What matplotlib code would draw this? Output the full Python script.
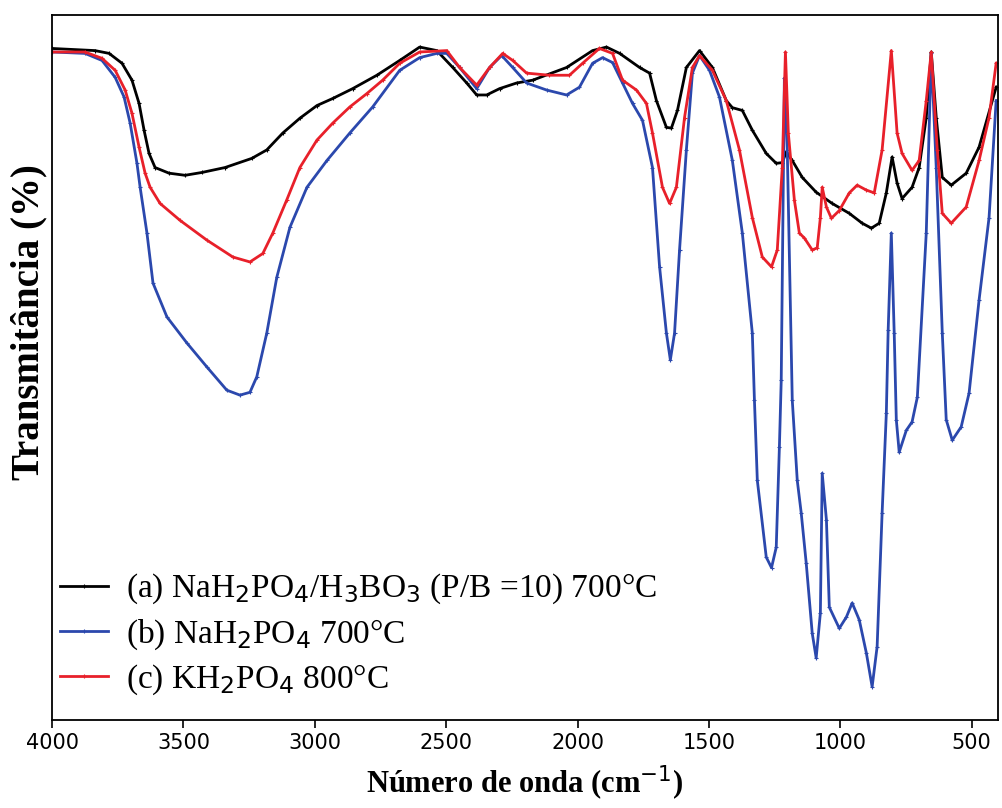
import matplotlib
matplotlib.use('Agg')
import matplotlib.pyplot as plt

# wavenumber (cm-1) / transmittance (arb. %)
wn_a = [4000, 3837, 3783, 3734, 3696, 3669, 3650, 3631, 3608, 3555, 3494, 3430,
        3342, 3240, 3183, 3122, 3057, 2992, 2932, 2856, 2764, 2677, 2601, 2536,
        2475, 2422, 2384, 2346, 2297, 2232, 2171, 2042, 1943, 1890, 1840, 1764,
        1726, 1700, 1662, 1643, 1620, 1586, 1536, 1487, 1434, 1411, 1373, 1335,
        1282, 1244, 1221, 1206, 1183, 1145, 1092, 1031, 966, 917, 882, 852, 825,
        803, 784, 765, 727, 700, 673, 654, 635, 612, 578, 521, 472, 407]
t_a = [95.3, 95.0, 94.6, 93.2, 90.8, 87.5, 83.7, 80.4, 78.4, 77.6, 77.3, 77.7,
       78.4, 79.7, 80.9, 83.3, 85.4, 87.2, 88.2, 89.6, 91.5, 93.6, 95.5, 95.0,
       92.6, 90.4, 88.7, 88.7, 89.6, 90.4, 90.8, 92.6, 95.0, 95.5, 94.6, 92.6,
       91.8, 87.9, 84.1, 84.0, 86.5, 92.6, 95.0, 92.6, 87.9, 86.9, 86.5, 83.7,
       80.4, 79.0, 79.1, 80.6, 79.4, 77.0, 74.9, 73.3, 71.9, 70.5, 69.8, 70.5,
       74.8, 79.9, 76.2, 74.0, 75.6, 78.4, 85.5, 94.8, 85.5, 77.0, 75.9, 77.6,
       81.3, 89.8]

wn_b = [4000, 3875, 3810, 3760, 3726, 3703, 3677, 3665, 3639, 3616, 3563, 3487,
        3411, 3335, 3285, 3247, 3221, 3183, 3145, 3095, 3030, 2954, 2867, 2780,
        2677, 2601, 2536, 2498, 2449, 2384, 2335, 2289, 2247, 2194, 2118, 2042,
        1993, 1943, 1905, 1867, 1829, 1791, 1753, 1715, 1688, 1662, 1647, 1631,
        1612, 1586, 1563, 1536, 1498, 1460, 1411, 1373, 1335, 1327, 1316, 1282,
        1262, 1244, 1232, 1225, 1213, 1202, 1183, 1164, 1149, 1130, 1107, 1092,
        1076, 1069, 1053, 1042, 1004, 977, 955, 928, 901, 879, 860, 841, 825,
        818, 806, 795, 787, 776, 749, 727, 707, 673, 654, 635, 612, 597, 574,
        540, 510, 472, 434, 407]
t_b = [94.8, 94.6, 93.6, 91.2, 88.4, 84.7, 79.0, 75.6, 69.1, 62.0, 57.2, 53.5,
       50.1, 46.8, 46.1, 46.5, 48.7, 54.9, 62.8, 69.9, 75.6, 79.4, 83.3, 87.0,
       92.2, 94.0, 94.6, 94.6, 92.6, 89.6, 92.6, 94.3, 92.6, 90.4, 89.4, 88.7,
       89.8, 93.2, 94.0, 93.3, 90.4, 87.5, 85.1, 78.4, 64.3, 54.9, 51.1, 54.9,
       66.7, 80.9, 91.8, 94.3, 92.2, 88.4, 79.4, 69.1, 54.9, 45.4, 34.0, 23.1,
       21.6, 24.5, 38.7, 48.2, 91.1, 80.9, 45.4, 34.0, 29.4, 22.3, 12.3, 8.8,
       15.2, 35.0, 28.4, 16.0, 13.0, 14.6, 16.6, 14.2, 9.5, 4.7, 10.4, 29.4,
       43.5, 55.3, 69.1, 54.9, 42.6, 38.0, 41.1, 42.3, 45.8, 69.1, 94.6, 78.4,
       54.9, 42.6, 39.7, 41.6, 46.4, 59.6, 71.3, 87.9]

wn_c = [4000, 3875, 3810, 3760, 3722, 3696, 3669, 3646, 3627, 3589, 3513, 3411,
        3312, 3247, 3198, 3160, 3107, 3057, 2992, 2932, 2867, 2802, 2742, 2677,
        2601, 2498, 2449, 2384, 2335, 2285, 2247, 2194, 2107, 2031, 1981, 1917,
        1867, 1829, 1776, 1738, 1715, 1677, 1650, 1624, 1593, 1563, 1536, 1487,
        1434, 1384, 1335, 1297, 1262, 1240, 1221, 1209, 1198, 1175, 1156, 1137,
        1107, 1088, 1076, 1069, 1053, 1034, 1004, 966, 936, 901, 871, 841, 806,
        784, 765, 727, 700, 673, 654, 631, 612, 578, 521, 472, 434, 407]
t_c = [94.8, 94.8, 93.9, 92.2, 89.4, 86.1, 81.3, 77.6, 75.6, 73.3, 70.9, 68.1,
       65.7, 65.0, 66.2, 69.1, 73.8, 78.4, 82.3, 84.7, 87.0, 88.9, 90.8, 93.2,
       94.8, 95.0, 92.6, 90.1, 92.6, 94.6, 93.6, 91.8, 91.5, 91.5, 93.2, 95.3,
       94.6, 90.8, 89.4, 87.5, 83.3, 75.6, 73.3, 75.6, 85.5, 92.6, 94.3, 92.2,
       87.9, 80.9, 71.3, 65.7, 64.3, 66.7, 78.4, 94.8, 83.3, 73.8, 69.1, 68.4,
       66.7, 67.0, 71.3, 75.6, 72.8, 71.2, 72.3, 74.8, 75.9, 75.2, 74.8, 80.9,
       95.0, 83.3, 80.4, 78.0, 79.4, 87.9, 94.8, 80.9, 71.9, 70.5, 72.8, 79.4,
       85.5, 93.2]

labels = [r'(a) NaH$_2$PO$_4$/H$_3$BO$_3$ (P/B =10) 700°C',
          r'(b) NaH$_2$PO$_4$ 700°C',
          r'(c) KH$_2$PO$_4$ 800°C']
colors = ['black', '#2b48ad', '#e8202a']
xticks = [4000, 3500, 3000, 2500, 2000, 1500, 1000, 500]

plt.rcParams['font.family'] = ['Liberation Serif', 'DejaVu Serif']
plt.rcParams['mathtext.fontset'] = 'dejavusans'

fig, ax = plt.subplots(figsize=(10.02, 8.08), dpi=100)
fig.subplots_adjust(left=0.052, right=0.996, top=0.981, bottom=0.109)

for wn, t, lab, c in zip([wn_a, wn_b, wn_c], [t_a, t_b, t_c], labels, colors):
    ax.plot(wn, t, color=c, lw=2.0, marker='+', ms=2.5, mew=0.8, label=lab)

ax.set_xlim(4000, 400)
ax.set_ylim(0, 100)
ax.set_xticks(xticks)
ax.set_xticklabels([str(v) for v in xticks], family='DejaVu Sans', fontsize=15)
ax.set_yticks([])
ax.tick_params(axis='x', length=6, width=1.2)
for s in ax.spines.values():
    s.set_linewidth(1.3)

ax.set_xlabel('Número de onda (cm$^{-1}$)', fontsize=22, fontweight='bold',
              labelpad=8)
ax.set_ylabel('Transmitância (%)', fontsize=28, fontweight='bold')
ax.yaxis.set_label_coords(-0.005, 0.565)

ax.legend(loc='lower left', bbox_to_anchor=(0.008, 0.033), frameon=False,
          fontsize=24, handlelength=1.45, handletextpad=0.55, borderpad=0,
          borderaxespad=0, labelspacing=0.32)

fig.savefig('out.png', dpi=100)
